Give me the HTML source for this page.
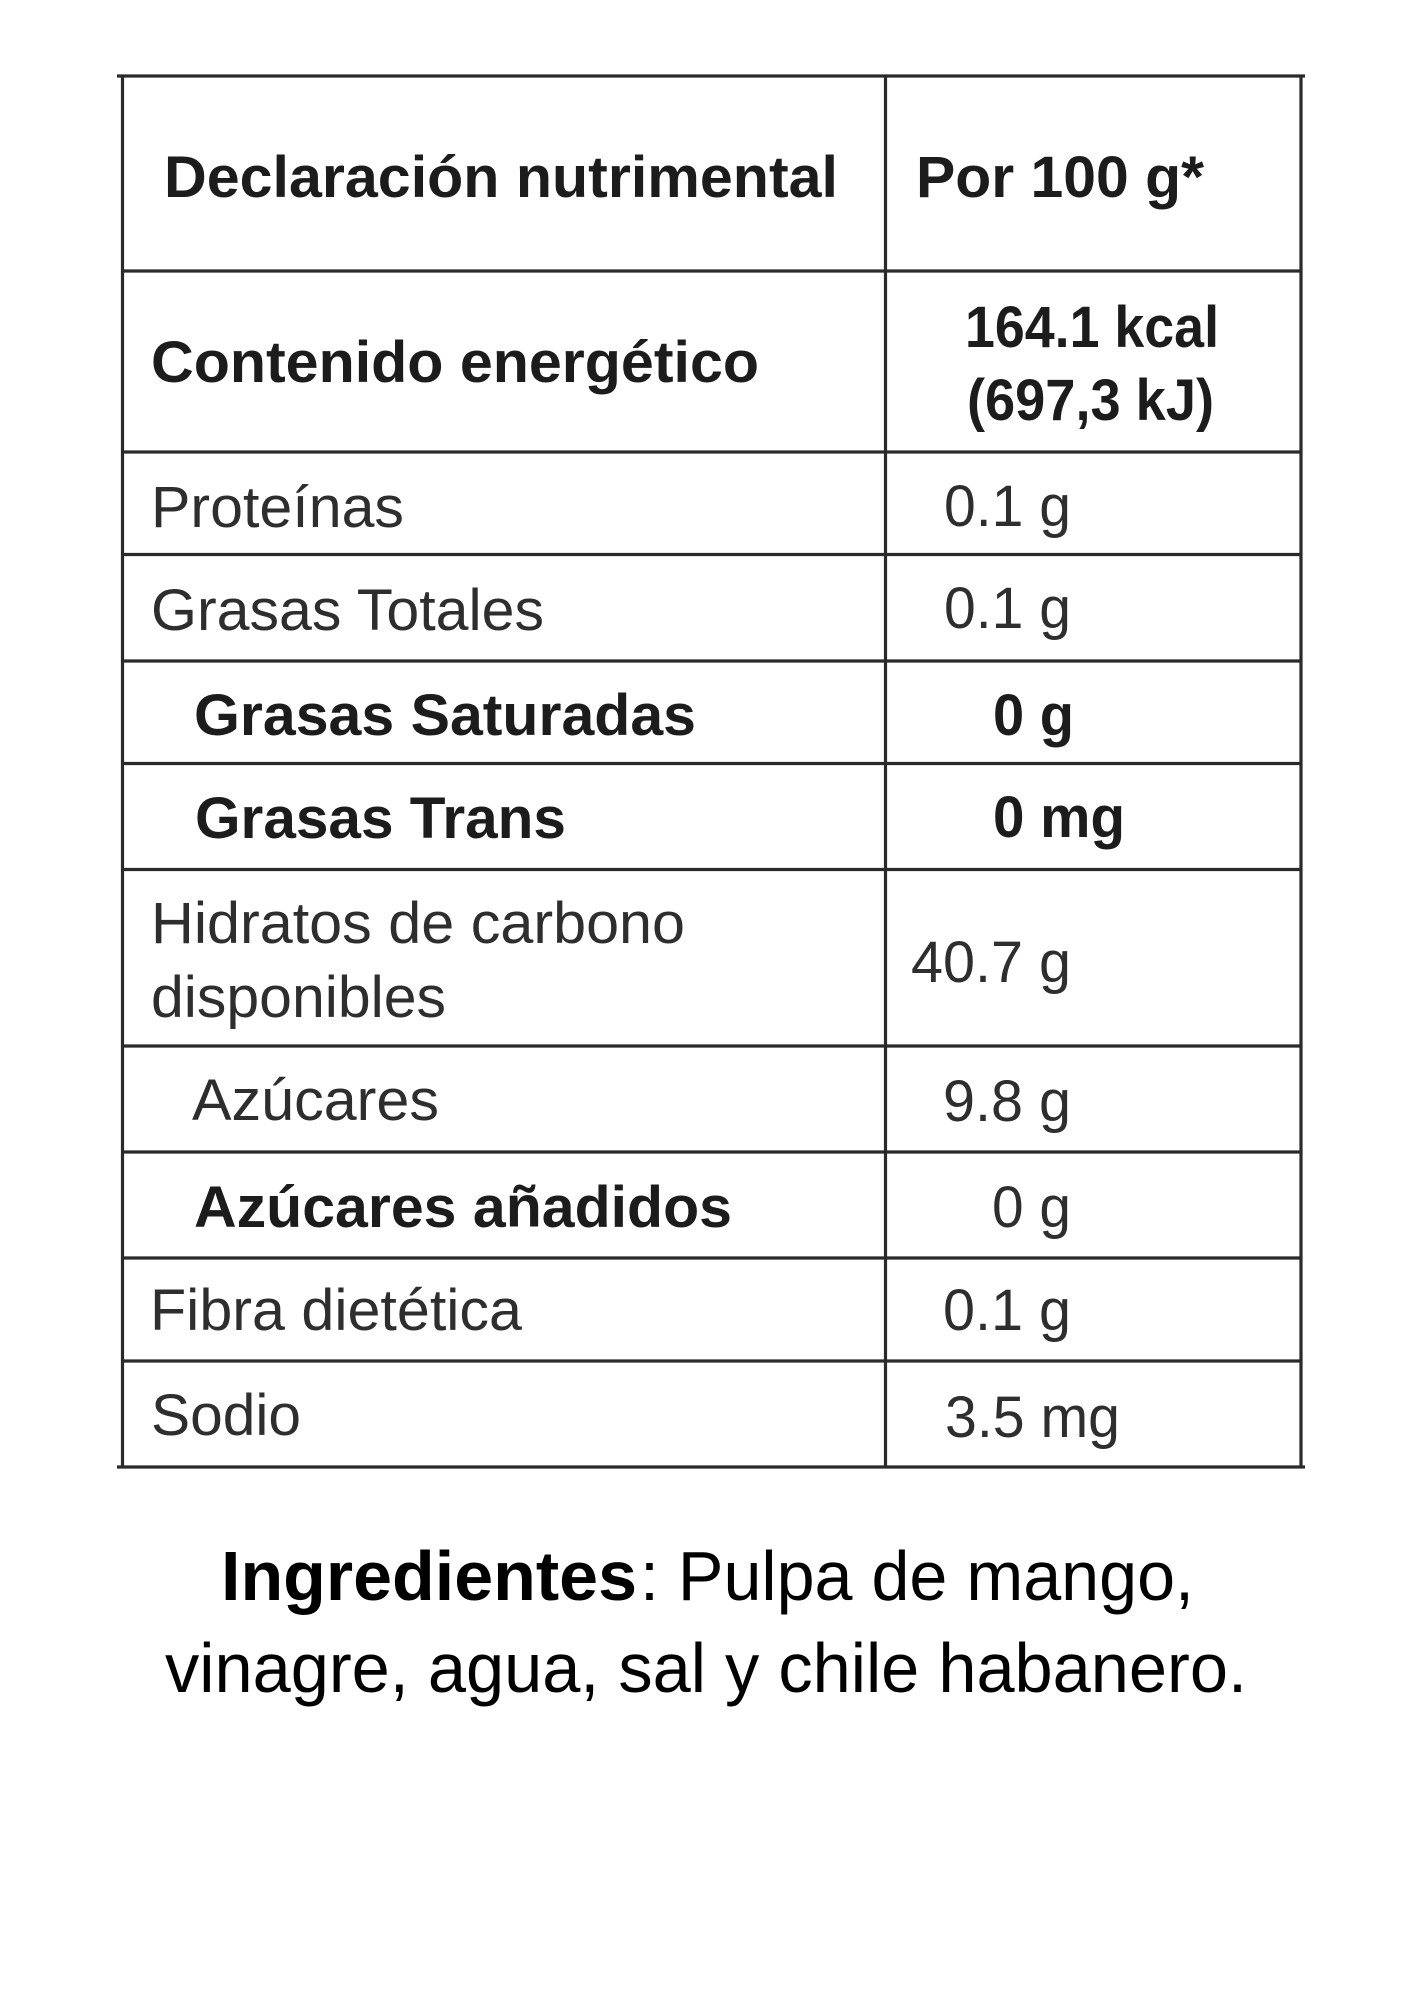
<!DOCTYPE html>
<html>
<head>
<meta charset="utf-8">
<style>
  html, body { margin:0; padding:0; background:#ffffff; }
  body { width:1414px; height:2000px; overflow:hidden; }
  svg { display:block; }
  .b { font-family:"Liberation Sans", Arial, sans-serif; font-weight:bold; font-size:58px; fill:#1c1c1c; }
  .r { font-family:"Liberation Sans", Arial, sans-serif; font-weight:normal; font-size:58px; fill:#2e2e2e; }
  .ib { font-family:"Liberation Sans", Arial, sans-serif; font-weight:bold; font-size:70px; fill:#000; }
  .ir { font-family:"Liberation Sans", Arial, sans-serif; font-weight:normal; font-size:70px; fill:#000; }
</style>
</head>
<body>
<svg width="1414" height="2000" viewBox="0 0 1414 2000" xmlns="http://www.w3.org/2000/svg">
  <rect x="0" y="0" width="1414" height="2000" fill="#ffffff"/>
  <g stroke="#2a2a2a" stroke-width="3.2" fill="none">
    <line x1="117" y1="76" x2="1305" y2="76"/>
    <line x1="117" y1="1467" x2="1305" y2="1467"/>
    <line x1="122.5" y1="76" x2="122.5" y2="1467"/>
    <line x1="885.5" y1="76" x2="885.5" y2="1467"/>
    <line x1="1301" y1="76" x2="1301" y2="1467"/>
    <line x1="122" y1="271" x2="1301" y2="271"/>
    <line x1="122" y1="452" x2="1301" y2="452"/>
    <line x1="122" y1="554.5" x2="1301" y2="554.5"/>
    <line x1="122" y1="661" x2="1301" y2="661"/>
    <line x1="122" y1="763.5" x2="1301" y2="763.5"/>
    <line x1="122" y1="869.5" x2="1301" y2="869.5"/>
    <line x1="122" y1="1046" x2="1301" y2="1046"/>
    <line x1="122" y1="1152" x2="1301" y2="1152"/>
    <line x1="122" y1="1258" x2="1301" y2="1258"/>
    <line x1="122" y1="1361" x2="1301" y2="1361"/>
  </g>

  <!-- Left column -->
  <text class="b" x="164" y="197" textLength="674" lengthAdjust="spacingAndGlyphs">Declaración nutrimental</text>
  <text class="b" x="151" y="382" textLength="608" lengthAdjust="spacingAndGlyphs">Contenido energético</text>
  <text class="r" x="151" y="527" textLength="253" lengthAdjust="spacingAndGlyphs">Proteínas</text>
  <text class="r" x="151" y="630" textLength="393" lengthAdjust="spacingAndGlyphs">Grasas Totales</text>
  <text class="b" x="194" y="735" textLength="502" lengthAdjust="spacingAndGlyphs">Grasas Saturadas</text>
  <text class="b" x="195" y="838" textLength="371" lengthAdjust="spacingAndGlyphs">Grasas Trans</text>
  <text class="r" x="151" y="943" textLength="534" lengthAdjust="spacingAndGlyphs">Hidratos de carbono</text>
  <text class="r" x="151" y="1017" textLength="295" lengthAdjust="spacingAndGlyphs">disponibles</text>
  <text class="r" x="192" y="1120" textLength="247" lengthAdjust="spacingAndGlyphs">Azúcares</text>
  <text class="b" x="194" y="1227" textLength="538" lengthAdjust="spacingAndGlyphs">Azúcares añadidos</text>
  <text class="r" x="150" y="1330" textLength="372" lengthAdjust="spacingAndGlyphs">Fibra dietética</text>
  <text class="r" x="151" y="1435" textLength="150" lengthAdjust="spacingAndGlyphs">Sodio</text>

  <!-- Right column -->
  <text class="b" x="916" y="197" textLength="288" lengthAdjust="spacingAndGlyphs">Por 100 g*</text>
  <text class="b" x="965" y="347" textLength="254" lengthAdjust="spacingAndGlyphs">164.1 kcal</text>
  <text class="b" x="967" y="420" textLength="247" lengthAdjust="spacingAndGlyphs">(697,3 kJ)</text>
  <text class="r" x="944" y="526" textLength="127" lengthAdjust="spacingAndGlyphs">0.1 g</text>
  <text class="r" x="944" y="628" textLength="127" lengthAdjust="spacingAndGlyphs">0.1 g</text>
  <text class="b" x="993" y="735" textLength="81" lengthAdjust="spacingAndGlyphs">0 g</text>
  <text class="b" x="993" y="837" textLength="132" lengthAdjust="spacingAndGlyphs">0 mg</text>
  <text class="r" x="911" y="982" textLength="160" lengthAdjust="spacingAndGlyphs">40.7 g</text>
  <text class="r" x="943" y="1121" textLength="128" lengthAdjust="spacingAndGlyphs">9.8 g</text>
  <text class="r" x="992" y="1227" textLength="79" lengthAdjust="spacingAndGlyphs">0 g</text>
  <text class="r" x="943" y="1330" textLength="128" lengthAdjust="spacingAndGlyphs">0.1 g</text>
  <text class="r" x="945" y="1437" textLength="175" lengthAdjust="spacingAndGlyphs">3.5 mg</text>

  <!-- Ingredients -->
  <text class="ib" x="221" y="1600" textLength="416" lengthAdjust="spacingAndGlyphs">Ingredientes</text>
  <text class="ir" x="640" y="1600" textLength="554" lengthAdjust="spacingAndGlyphs">: Pulpa de mango,</text>
  <text class="ir" x="165" y="1692" textLength="1082" lengthAdjust="spacingAndGlyphs">vinagre, agua, sal y chile habanero.</text>
</svg>
</body>
</html>
